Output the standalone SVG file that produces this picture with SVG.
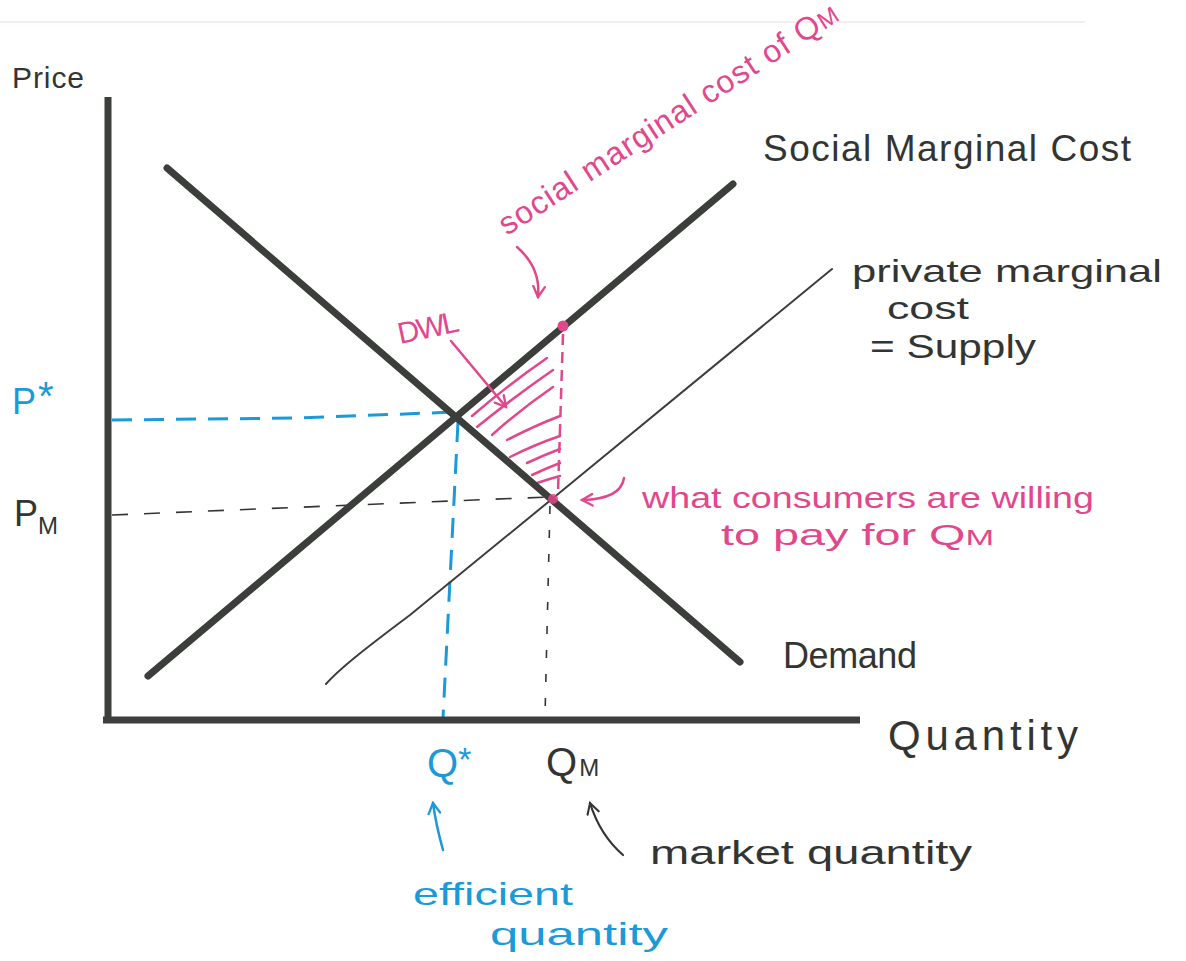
<svg xmlns="http://www.w3.org/2000/svg" width="1186" height="961" viewBox="0 0 1186 961">
<style>
  text { font-family: "Liberation Sans", "DejaVu Sans", sans-serif; }
  .ink { fill: #333533; }
  .blue { fill: #1a9ad8; }
  .pink { fill: #e2478c; }
  .axis { stroke: #3b3e3b; stroke-width: 7; fill: none; stroke-linecap: butt; }
  .thick { stroke: #3b3e3b; stroke-width: 7; fill: none; stroke-linecap: round; }
  .thin { stroke: #3b3e3b; stroke-width: 2; fill: none; stroke-linecap: round; }
  .dash-blue { stroke: #1a9ad8; stroke-width: 3; fill: none; stroke-dasharray: 20 12; }
  .dash-black { stroke: #333533; stroke-width: 1.6; fill: none; stroke-dasharray: 16 16; }
  .dash-black-v { stroke: #333533; stroke-width: 1.6; fill: none; stroke-dasharray: 8 16; }
  .dash-pink { stroke: #e2478c; stroke-width: 2.5; fill: none; stroke-dasharray: 11 7; }
  .hatch { stroke: #e2478c; stroke-width: 2.5; fill: none; stroke-linecap: round; }
  .arr-pink { stroke: #e2478c; stroke-width: 2.5; fill: none; stroke-linecap: round; }
  .arr-blue { stroke: #1a9ad8; stroke-width: 2.5; fill: none; stroke-linecap: round; }
  .arr-black { stroke: #333533; stroke-width: 2.2; fill: none; stroke-linecap: round; }
</style>
<defs>
  <marker id="headPink" viewBox="0 0 12 12" refX="10" refY="6" markerWidth="14" markerHeight="14" markerUnits="userSpaceOnUse" orient="auto">
    <path d="M1,1 L10,6 L1,11" fill="none" stroke="#e2478c" stroke-width="2" stroke-linecap="round"/>
  </marker>
  <marker id="headBlue" viewBox="0 0 12 12" refX="10" refY="6" markerWidth="14" markerHeight="14" markerUnits="userSpaceOnUse" orient="auto">
    <path d="M1,1 L10,6 L1,11" fill="none" stroke="#1a9ad8" stroke-width="2" stroke-linecap="round"/>
  </marker>
  <marker id="headBlack" viewBox="0 0 12 12" refX="10" refY="6" markerWidth="14" markerHeight="14" markerUnits="userSpaceOnUse" orient="auto">
    <path d="M1,1 L10,6 L1,11" fill="none" stroke="#333533" stroke-width="1.8" stroke-linecap="round"/>
  </marker>
  <clipPath id="dwlClip">
    <polygon points="462,414 566,328 562,492 552,500"/>
  </clipPath>
</defs>

<rect width="1186" height="961" fill="#ffffff"/>
<line x1="0" y1="22" x2="1085" y2="22" stroke="#f6e6ee" stroke-width="1.5"/>

<g id="connectors">
  <g id="dwl-hatch" clip-path="url(#dwlClip)">
    <path class="hatch" d="M472,416 Q508,385 547,358"/>
    <path class="hatch" d="M477,427 Q514,397 553,370"/>
    <path class="hatch" d="M492,435 Q521,409 553,387"/>
    <path class="hatch" d="M507,440 Q534,426 560,416"/>
    <path class="hatch" d="M510,457 Q536,444 560,436"/>
    <path class="hatch" d="M527,463 Q544,455 560,449"/>
    <path class="hatch" d="M532,475 Q547,468 560,463"/>
    <path class="hatch" d="M537,483 Q549,479 560,476"/>
  </g>
  <path class="dash-pink" d="M563,334 L558,492"/>

  <path class="dash-blue" d="M112,420 L300,418 L455,412"/>
  <path class="dash-blue" d="M458,422 L443,718"/>
  <path class="dash-black" d="M112,515 L548,497"/>
  <path class="dash-black-v" d="M550,506 L545,716"/>

  <path class="axis" d="M108,97 L108,723"/>
  <path class="axis" d="M103,720 L860,720"/>

  <line id="demand" class="thick" x1="167" y1="168" x2="740" y2="662"/>
  <line id="smc" class="thick" x1="148" y1="676" x2="733" y2="184"/>
  <path id="pmc" class="thin" d="M326,684 C340,668 370,645 410,615 L552,499 L832,269"/>

  <circle cx="563" cy="326" r="5.5" fill="#e2478c"/>
  <circle cx="553" cy="499" r="5" fill="#e2478c" opacity="0.85"/>

  <path class="arr-pink" d="M517,247 Q541,268 538,297" marker-end="url(#headPink)"/>
  <path class="arr-pink" d="M451,341 L506,407" marker-end="url(#headPink)"/>
  <path class="arr-pink" d="M624,478 Q621,499 582,500" marker-end="url(#headPink)"/>
  <path class="arr-blue" d="M443,850 Q436,825 433,803" marker-end="url(#headBlue)"/>
  <path class="arr-black" d="M623,855 Q600,835 590,803" marker-end="url(#headBlack)"/>
</g>

<g id="label-price"><text class="ink" x="12" y="88" font-size="30" textLength="72">Price</text></g>
<g id="label-quantity"><text class="ink" x="888" y="750" font-size="42" textLength="190">Quantity</text></g>
<g id="label-smc"><text class="ink" x="763" y="161" font-size="37" textLength="368">Social Marginal Cost</text></g>
<g id="label-pmc">
  <text class="ink" x="852" y="282" font-size="32" textLength="310" lengthAdjust="spacingAndGlyphs">private marginal</text>
  <text class="ink" x="887" y="319" font-size="32" textLength="82" lengthAdjust="spacingAndGlyphs">cost</text>
  <text class="ink" x="870" y="358" font-size="33" textLength="166" lengthAdjust="spacingAndGlyphs">= Supply</text>
</g>
<g id="label-demand"><text class="ink" x="783" y="668" font-size="36" textLength="134">Demand</text></g>
<g id="label-pstar"><text class="blue" x="12" y="414" font-size="36">P<tspan font-size="40" dx="2" dy="-4">*</tspan></text></g>
<g id="label-pm"><text class="ink" x="14" y="526" font-size="36">P<tspan font-size="24" dy="8">M</tspan></text></g>
<g id="label-qstar"><text class="blue" x="427" y="777" font-size="40">Q<tspan font-size="34" dy="-6">*</tspan></text></g>
<g id="label-qm"><text class="ink" x="546" y="776" font-size="40">Q<tspan font-size="24" dx="2">M</tspan></text></g>
<g id="label-market-quantity"><text class="ink" x="650" y="864" font-size="34" textLength="322" lengthAdjust="spacingAndGlyphs">market quantity</text></g>
<g id="label-efficient-quantity">
  <text class="blue" x="413" y="905" font-size="32" textLength="160" lengthAdjust="spacingAndGlyphs">efficient</text>
  <text class="blue" x="490" y="945" font-size="32" textLength="178" lengthAdjust="spacingAndGlyphs">quantity</text>
</g>
<g id="label-dwl"><text class="pink" x="0" y="0" font-size="30" textLength="62" transform="translate(400,344) rotate(-12)">DWL</text></g>
<g id="label-smc-qm"><text class="pink" x="0" y="0" font-size="32" textLength="398" transform="translate(507,236) rotate(-33)">social marginal cost of Q<tspan font-size="24">M</tspan></text></g>
<g id="label-wtp">
  <text class="pink" x="642" y="508" font-size="30" textLength="452" lengthAdjust="spacingAndGlyphs">what consumers are willing</text>
  <text class="pink" x="721" y="545" font-size="30" textLength="273" lengthAdjust="spacingAndGlyphs">to pay for Q<tspan font-size="22">M</tspan></text>
</g>
</svg>
